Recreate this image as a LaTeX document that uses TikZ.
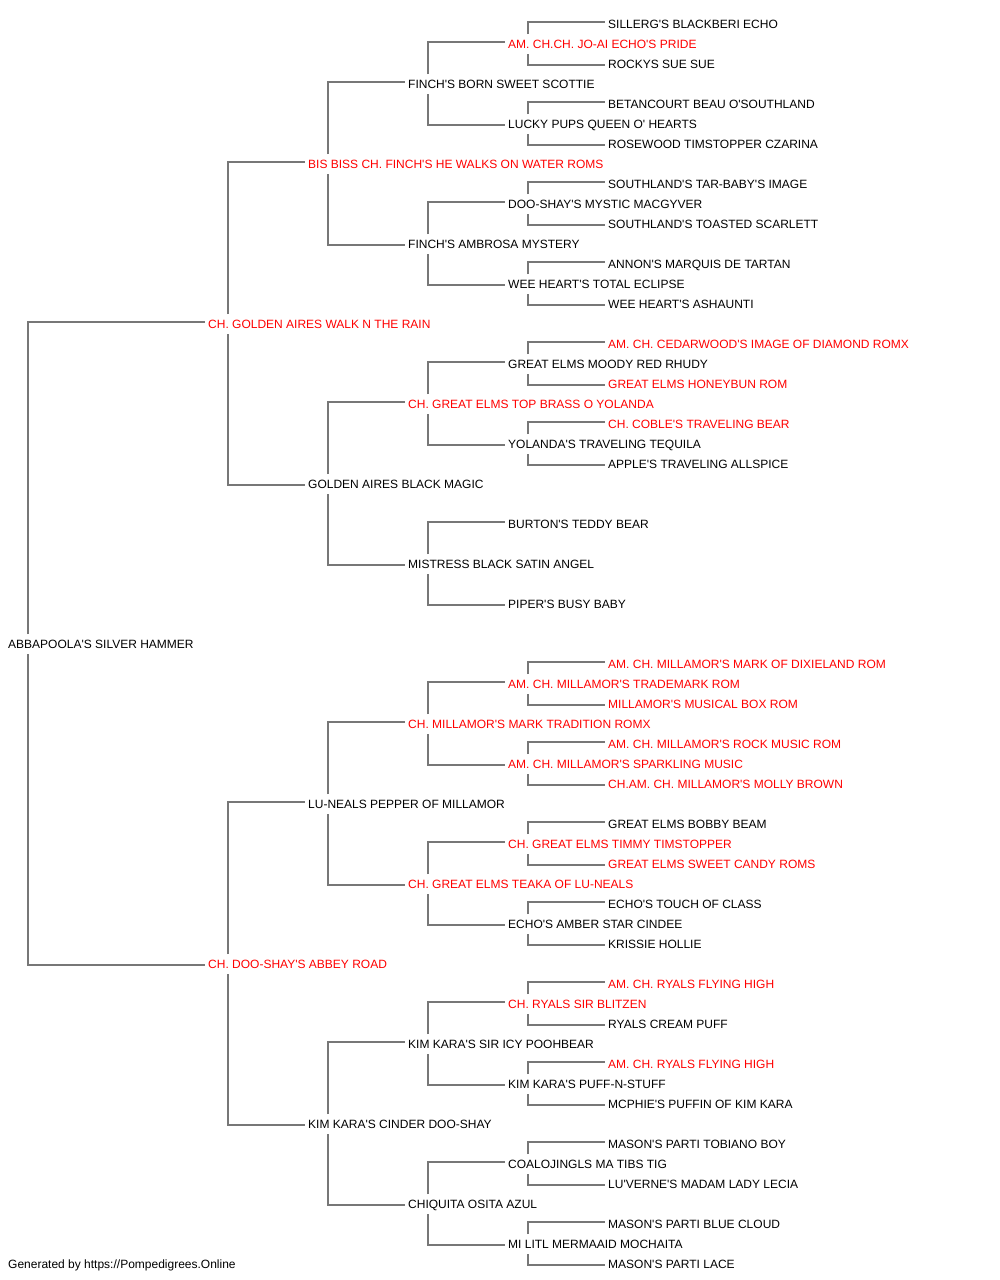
\documentclass[tikz,border=0pt]{standalone}
\usepackage{fontspec}
\newfontfamily\pedfont{Liberation Sans}
\usetikzlibrary{calc}
\definecolor{pedred}{RGB}{255,0,0}
\definecolor{lineg}{RGB}{119,119,119}
\begin{document}
\begin{tikzpicture}[x=1pt,y=-1pt,
  bk/.style={anchor=base west,inner sep=0pt,yshift=-4.3pt,font=\pedfont\fontsize{12}{14}\selectfont,text=black},
  rd/.style={bk,text=pedred},
  ln/.style={draw=lineg,line width=1.3pt}]
\fill[white] (0,0) rectangle (1000,1280);
\useasboundingbox (0,0) rectangle (1000,1280);
% level 0-2
\node[bk] (r) at (8,644) {ABBAPOOLA'S SILVER HAMMER};
\node[rd] (a) at (208,324) {CH. GOLDEN AIRES WALK N THE RAIN};
\node[rd] (b) at (208,964) {CH. DOO-SHAY'S ABBEY ROAD};
\node[rd] (aa) at (308,164) {BIS BISS CH. FINCH'S HE WALKS ON WATER ROMS};
\node[bk] (ab) at (308,484) {GOLDEN AIRES BLACK MAGIC};
\node[bk] (ba) at (308,804) {LU-NEALS PEPPER OF MILLAMOR};
\node[bk] (bb) at (308,1124) {KIM KARA'S CINDER DOO-SHAY};
% level 3
\node[bk] (aaa) at (408,84) {FINCH'S BORN SWEET SCOTTIE};
\node[bk] (aab) at (408,244) {FINCH'S AMBROSA MYSTERY};
\node[rd] (aba) at (408,404) {CH. GREAT ELMS TOP BRASS O YOLANDA};
\node[bk] (abb) at (408,564) {MISTRESS BLACK SATIN ANGEL};
\node[rd] (baa) at (408,724) {CH. MILLAMOR'S MARK TRADITION ROMX};
\node[rd] (bab) at (408,884) {CH. GREAT ELMS TEAKA OF LU-NEALS};
\node[bk] (bba) at (408,1044) {KIM KARA'S SIR ICY POOHBEAR};
\node[bk] (bbb) at (408,1204) {CHIQUITA OSITA AZUL};
% level 4
\node[rd] (aaaa) at (508,44) {AM. CH.CH. JO-AI ECHO'S PRIDE};
\node[bk] (aaab) at (508,124) {LUCKY PUPS QUEEN O' HEARTS};
\node[bk] (aaba) at (508,204) {DOO-SHAY'S MYSTIC MACGYVER};
\node[bk] (aabb) at (508,284) {WEE HEART'S TOTAL ECLIPSE};
\node[bk] (abaa) at (508,364) {GREAT ELMS MOODY RED RHUDY};
\node[bk] (abab) at (508,444) {YOLANDA'S TRAVELING TEQUILA};
\node[bk] (abba) at (508,524) {BURTON'S TEDDY BEAR};
\node[bk] (abbb) at (508,604) {PIPER'S BUSY BABY};
\node[rd] (baaa) at (508,684) {AM. CH. MILLAMOR'S TRADEMARK ROM};
\node[rd] (baab) at (508,764) {AM. CH. MILLAMOR'S SPARKLING MUSIC};
\node[rd] (baba) at (508,844) {CH. GREAT ELMS TIMMY TIMSTOPPER};
\node[bk] (babb) at (508,924) {ECHO'S AMBER STAR CINDEE};
\node[rd] (bbaa) at (508,1004) {CH. RYALS SIR BLITZEN};
\node[bk] (bbab) at (508,1084) {KIM KARA'S PUFF-N-STUFF};
\node[bk] (bbba) at (508,1164) {COALOJINGLS MA TIBS TIG};
\node[bk] (bbbb) at (508,1244) {MI LITL MERMAAID MOCHAITA};
% level 5
\node[bk] (aaaaa) at (608,24) {SILLERG'S BLACKBERI ECHO};
\node[bk] (aaaab) at (608,64) {ROCKYS SUE SUE};
\node[bk] (aaaba) at (608,104) {BETANCOURT BEAU O'SOUTHLAND};
\node[bk] (aaabb) at (608,144) {ROSEWOOD TIMSTOPPER CZARINA};
\node[bk] (aabaa) at (608,184) {SOUTHLAND'S TAR-BABY'S IMAGE};
\node[bk] (aabab) at (608,224) {SOUTHLAND'S TOASTED SCARLETT};
\node[bk] (aabba) at (608,264) {ANNON'S MARQUIS DE TARTAN};
\node[bk] (aabbb) at (608,304) {WEE HEART'S ASHAUNTI};
\node[rd] (abaaa) at (608,344) {AM. CH. CEDARWOOD'S IMAGE OF DIAMOND ROMX};
\node[rd] (abaab) at (608,384) {GREAT ELMS HONEYBUN ROM};
\node[rd] (ababa) at (608,424) {CH. COBLE'S TRAVELING BEAR};
\node[bk] (ababb) at (608,464) {APPLE'S TRAVELING ALLSPICE};
\node[rd] (baaaa) at (608,664) {AM. CH. MILLAMOR'S MARK OF DIXIELAND ROM};
\node[rd] (baaab) at (608,704) {MILLAMOR'S MUSICAL BOX ROM};
\node[rd] (baaba) at (608,744) {AM. CH. MILLAMOR'S ROCK MUSIC ROM};
\node[rd] (baabb) at (608,784) {CH.AM. CH. MILLAMOR'S MOLLY BROWN};
\node[bk] (babaa) at (608,824) {GREAT ELMS BOBBY BEAM};
\node[rd] (babab) at (608,864) {GREAT ELMS SWEET CANDY ROMS};
\node[bk] (babba) at (608,904) {ECHO'S TOUCH OF CLASS};
\node[bk] (babbb) at (608,944) {KRISSIE HOLLIE};
\node[rd] (bbaaa) at (608,984) {AM. CH. RYALS FLYING HIGH};
\node[bk] (bbaab) at (608,1024) {RYALS CREAM PUFF};
\node[rd] (bbaba) at (608,1064) {AM. CH. RYALS FLYING HIGH};
\node[bk] (bbabb) at (608,1104) {MCPHIE'S PUFFIN OF KIM KARA};
\node[bk] (bbbaa) at (608,1144) {MASON'S PARTI TOBIANO BOY};
\node[bk] (bbbab) at (608,1184) {LU'VERNE'S MADAM LADY LECIA};
\node[bk] (bbbba) at (608,1224) {MASON'S PARTI BLUE CLOUD};
\node[bk] (bbbbb) at (608,1264) {MASON'S PARTI LACE};
% footer
\node[bk] (foot) at (8,1264) {Generated by https://Pompedigrees.Online};
% connectors
\foreach \p/\s/\d in {r/a/b, a/aa/ab, b/ba/bb,
  aa/aaa/aab, ab/aba/abb, ba/baa/bab, bb/bba/bbb,
  aaa/aaaa/aaab, aab/aaba/aabb, aba/abaa/abab, abb/abba/abbb,
  baa/baaa/baab, bab/baba/babb, bba/bbaa/bbab, bbb/bbba/bbbb,
  aaaa/aaaaa/aaaab, aaab/aaaba/aaabb, aaba/aabaa/aabab, aabb/aabba/aabbb,
  abaa/abaaa/abaab, abab/ababa/ababb,
  baaa/baaaa/baaab, baab/baaba/baabb, baba/babaa/babab, babb/babba/babbb,
  bbaa/bbaaa/bbaab, bbab/bbaba/bbabb, bbba/bbbaa/bbbab, bbbb/bbbba/bbbbb}{
  \draw[ln] ($(\p.base west)+(20,-14.3)$) |- ($(\s.base west)+(-3,-6.3)$);
  \draw[ln] ($(\p.base west)+(20,5.7)$) |- ($(\d.base west)+(-3,-3.3)$);
}
\end{tikzpicture}
\end{document}
